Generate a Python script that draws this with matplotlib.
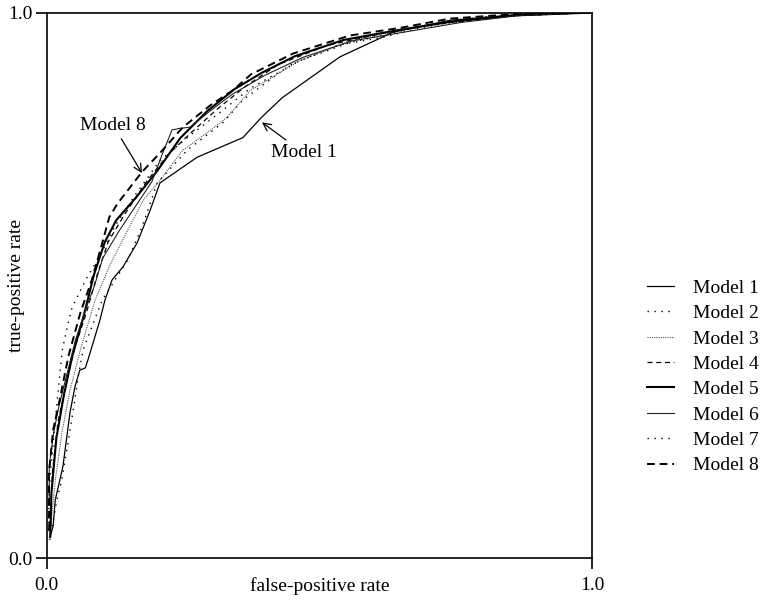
import matplotlib
matplotlib.use("Agg")
import matplotlib.pyplot as plt

# ── ROC curves (false-positive rate, true-positive rate) ───────────
m1_fpr = [0.006, 0.012, 0.016, 0.030, 0.043, 0.052, 0.061, 0.071, 0.076, 0.098, 0.107,
          0.120, 0.140, 0.166, 0.190, 0.208, 0.276, 0.360, 0.393, 0.432, 0.538, 0.635,
          0.740, 0.886, 1.0]
m1_tpr = [0.039, 0.058, 0.107, 0.168, 0.267, 0.314, 0.345, 0.349, 0.364, 0.437, 0.473,
          0.510, 0.534, 0.578, 0.638, 0.688, 0.735, 0.771, 0.807, 0.844, 0.919, 0.964,
          0.986, 0.998, 1.0]

m2_fpr = [0.006, 0.019, 0.028, 0.038, 0.049, 0.058, 0.067, 0.083, 0.102, 0.149, 0.175,
          0.203, 0.258, 0.324, 0.360, 0.446, 0.533, 0.617, 0.685, 0.795, 1.0]
m2_tpr = [0.034, 0.107, 0.144, 0.204, 0.272, 0.332, 0.382, 0.424, 0.473, 0.547, 0.607,
          0.688, 0.748, 0.799, 0.840, 0.904, 0.940, 0.955, 0.972, 0.992, 1.0]

m3_fpr = [0.006, 0.016, 0.029, 0.043, 0.062, 0.089, 0.116, 0.144, 0.177, 0.208, 0.250,
          0.300, 0.331, 0.373, 0.464, 0.556, 0.685, 0.832, 1.0]
m3_tpr = [0.042, 0.143, 0.235, 0.308, 0.382, 0.473, 0.537, 0.592, 0.656, 0.693, 0.748,
          0.784, 0.808, 0.857, 0.912, 0.948, 0.976, 0.994, 1.0]

m4_fpr = [0.006, 0.011, 0.021, 0.038, 0.053, 0.073, 0.093, 0.113, 0.143, 0.183, 0.223,
          0.265, 0.315, 0.365, 0.425, 0.515, 0.615, 0.720, 0.850, 1.0]
m4_tpr = [0.060, 0.160, 0.250, 0.330, 0.390, 0.450, 0.520, 0.580, 0.630, 0.690, 0.740,
          0.780, 0.825, 0.865, 0.905, 0.940, 0.962, 0.980, 0.994, 1.0]

m5_fpr = [0.007, 0.009, 0.018, 0.032, 0.047, 0.067, 0.087, 0.107, 0.128, 0.163, 0.203,
          0.245, 0.295, 0.345, 0.395, 0.455, 0.545, 0.645, 0.745, 0.860, 1.0]
m5_tpr = [0.040, 0.120, 0.220, 0.300, 0.370, 0.440, 0.520, 0.580, 0.620, 0.660, 0.710,
          0.770, 0.820, 0.860, 0.890, 0.920, 0.950, 0.968, 0.984, 0.995, 1.0]

m6_fpr = [0.005, 0.005, 0.013, 0.023, 0.038, 0.053, 0.073, 0.088, 0.103, 0.133, 0.163,
          0.193, 0.212, 0.230, 0.245, 0.263, 0.300, 0.340, 0.400, 0.470, 0.560, 0.660,
          0.760, 0.870, 1.0]
m6_tpr = [0.100, 0.170, 0.230, 0.280, 0.340, 0.400, 0.460, 0.500, 0.550, 0.600, 0.645,
          0.690, 0.740, 0.785, 0.788, 0.790, 0.820, 0.850, 0.885, 0.918, 0.948, 0.965,
          0.982, 0.995, 1.0]

m7_fpr = [0.003, 0.006, 0.016, 0.029, 0.038, 0.047, 0.071, 0.098, 0.126, 0.162, 0.208,
          0.263, 0.318, 0.373, 0.464, 0.556, 0.685, 0.832, 1.0]
m7_tpr = [0.052, 0.143, 0.253, 0.382, 0.424, 0.460, 0.509, 0.555, 0.610, 0.665, 0.729,
          0.775, 0.817, 0.861, 0.912, 0.945, 0.974, 0.993, 1.0]

m8_fpr = [0.005, 0.004, 0.012, 0.024, 0.040, 0.062, 0.083, 0.100, 0.115, 0.130, 0.175,
          0.210, 0.250, 0.300, 0.342, 0.375, 0.452, 0.556, 0.648, 0.740, 0.868, 1.0]
m8_tpr = [0.050, 0.150, 0.235, 0.290, 0.370, 0.450, 0.510, 0.570, 0.625, 0.650, 0.708,
          0.745, 0.790, 0.830, 0.858, 0.887, 0.925, 0.958, 0.972, 0.989, 0.998, 1.0]

labels = ["Model 1", "Model 2", "Model 3", "Model 4",
          "Model 5", "Model 6", "Model 7", "Model 8"]

# ── Style ─────────────────────────────────────────────────────────
plt.rcParams["font.family"] = ["Liberation Serif", "DejaVu Serif"]
plt.rcParams["font.size"] = 14

styles = [
    dict(color="black", lw=0.9, ls="-"),
    dict(color="black", lw=1.0, ls=(0, (1, 4))),
    dict(color="#555555", lw=0.8, ls=(0, (1, 1))),
    dict(color="black", lw=0.9, ls=(0, (4, 3))),
    dict(color="black", lw=1.5, ls="-"),
    dict(color="#222222", lw=0.8, ls="-"),
    dict(color="black", lw=1.0, ls=(0, (1, 4))),
    dict(color="black", lw=1.4, ls=(0, (4, 2.5))),
]

curves = [(m1_fpr, m1_tpr), (m2_fpr, m2_tpr), (m3_fpr, m3_tpr), (m4_fpr, m4_tpr),
          (m5_fpr, m5_tpr), (m6_fpr, m6_tpr), (m7_fpr, m7_tpr), (m8_fpr, m8_tpr)]

fig = plt.figure(figsize=(7.65, 6.0), dpi=100)
ax = fig.add_axes([0.0608, 0.0692, 0.7131, 0.9098])

for (fpr, tpr), lab, st in zip(curves, labels, styles):
    ax.plot(fpr, tpr, label=lab, **st)

ax.set_xlim(0, 1)
ax.set_ylim(0, 1)
ax.set_xticks([0, 1])
ax.set_yticks([0, 1])
ax.set_xticklabels(["0.0", "1.0"])
ax.set_yticklabels(["0.0", "1.0"])
ax.tick_params(direction="out", length=8, width=1.2, pad=2)
ax.tick_params(axis="x", pad=5)
for sp in ax.spines.values():
    sp.set_linewidth(1.2)

ax.set_xlabel("false-positive rate", labelpad=-12)
ax.set_ylabel("true-positive rate", labelpad=-12)

# ── Callouts ──────────────────────────────────────────────────────
arrow = dict(arrowstyle="->", color="black", lw=0.9, shrinkA=2, shrinkB=0)
ax.annotate("Model 8", xy=(0.175, 0.706), xytext=(0.122, 0.794),
            ha="center", va="center", arrowprops=arrow)
ax.annotate("Model 1", xy=(0.395, 0.799), xytext=(0.471, 0.743),
            ha="center", va="center", arrowprops=arrow)

fig.legend(loc="upper left", bbox_to_anchor=(0.833, 0.551), frameon=False,
           borderpad=0, handlelength=1.4, handletextpad=0.95, labelspacing=0.40)

plt.savefig("out.png", dpi=100)
